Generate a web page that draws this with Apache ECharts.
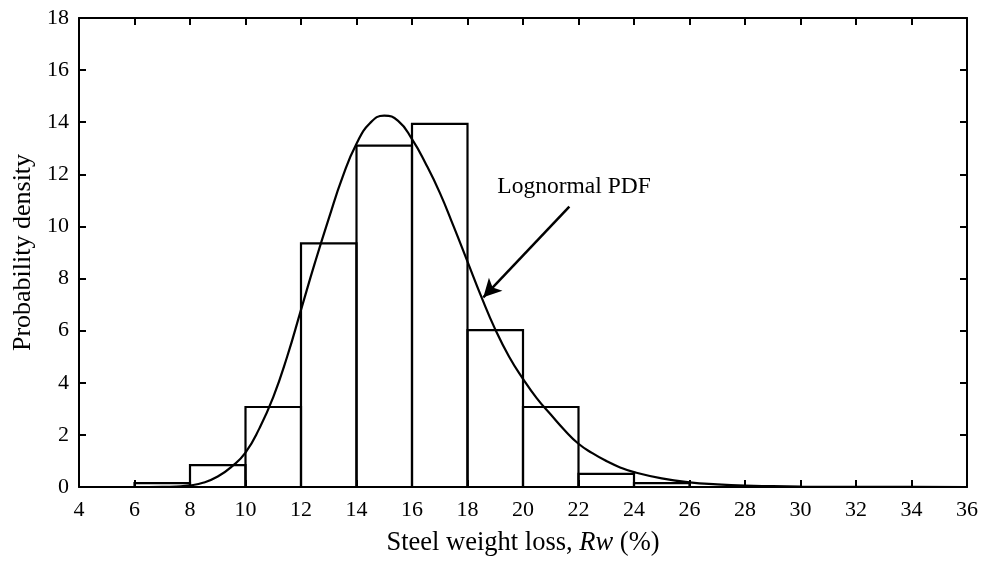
<!DOCTYPE html>
<html>
<head>
<meta charset="utf-8">
<script src="https://cdn.jsdelivr.net/npm/echarts@6/dist/echarts.min.js"></script>
<style>
  html, body { margin: 0; padding: 0; background: #fff; }
  #chart { width: 982px; height: 566px; }
</style>
</head>
<body>
<div id="chart"></div>
<script>
// Histogram bins (left/right edges, %) and observed probability density
const binEdges = [6, 8, 10, 12, 14, 16, 18, 20, 22, 24, 26];
const binDensity = [0.15, 0.84, 3.07, 9.35, 13.1, 13.94, 6.02, 3.07, 0.5, 0.15];

// Fitted lognormal PDF, sampled along the weight-loss axis
const pdfX = [4, 6, 7, 7.5, 8, 8.5, 9, 9.5, 10, 10.5, 11, 11.5, 12, 12.5, 13, 13.5, 14, 14.5,
              15, 15.5, 16, 16.5, 17, 17.5, 18, 18.5, 19, 19.5, 20, 20.5, 21, 21.5, 22, 22.5,
              23, 23.5, 24, 25, 26, 27, 28, 29, 30, 32, 34, 36];
const pdfY = [0, 0, 0.005, 0.02, 0.06, 0.17, 0.4, 0.78, 1.32, 2.25, 3.45, 5.0, 6.8, 8.6, 10.3, 11.9, 13.17, 13.98,
              14.25, 14.05, 13.35, 12.4, 11.3, 10.0, 8.65, 7.3, 6.05, 5.0, 4.15, 3.4, 2.78, 2.18, 1.66, 1.3,
              1.0, 0.75, 0.57, 0.33, 0.18, 0.1, 0.05, 0.03, 0.015, 0.004, 0.001, 0];

// Tick values for both axes
const xTicks = [4, 6, 8, 10, 12, 14, 16, 18, 20, 22, 24, 26, 28, 30, 32, 34, 36];
const yTicks = [0, 2, 4, 6, 8, 10, 12, 14, 16, 18];

// Annotation: label and arrow pointing at the curve
const pdfLabel = 'Lognormal PDF';
const labelAt = [21.84, 11.51];
const arrowFrom = [21.67, 10.76];
const arrowTo = [18.57, 7.28];

const FONT = '"Liberation Serif", "DejaVu Serif", serif';

const histData = binDensity.map((v, i) => [binEdges[i], binEdges[i + 1], v]);
const pdfData = pdfX.map((x, i) => [x, pdfY[i]]);

const axisLine = { show: true, onZero: false, lineStyle: { color: '#000', width: 2 } };
const axisTick = { show: true, inside: true, length: 7, lineStyle: { color: '#000', width: 2 } };

const chart = echarts.init(document.getElementById('chart'), null, { renderer: 'canvas' });

chart.setOption({
  animation: false,
  backgroundColor: '#fff',
  grid: { left: 79, right: 15, top: 18, bottom: 79 },
  xAxis: [
    {
      type: 'value', position: 'bottom',
      min: xTicks[0], max: xTicks[xTicks.length - 1], interval: 2,
      axisLine, axisTick,
      splitLine: { show: false },
      axisLabel: { color: '#000', fontFamily: FONT, fontSize: 22, margin: 12 },
      name: '{n|Steel weight loss, }{i|Rw}{n| (%)}',
      nameLocation: 'middle', nameGap: 43,
      nameTextStyle: {
        rich: {
          n: { fontFamily: FONT, fontSize: 26.5, color: '#000' },
          i: { fontFamily: FONT, fontSize: 26.5, color: '#000', fontStyle: 'italic' }
        }
      }
    },
    {
      type: 'value', position: 'top',
      min: xTicks[0], max: xTicks[xTicks.length - 1], interval: 2,
      axisLine, axisTick,
      splitLine: { show: false },
      axisLabel: { show: false }
    }
  ],
  yAxis: [
    {
      type: 'value', position: 'left',
      min: yTicks[0], max: yTicks[yTicks.length - 1], interval: 2,
      axisLine, axisTick,
      splitLine: { show: false },
      axisLabel: { color: '#000', fontFamily: FONT, fontSize: 22, margin: 10 },
      name: 'Probability density',
      nameLocation: 'middle', nameGap: 43,
      nameTextStyle: { fontFamily: FONT, fontSize: 26, color: '#000' }
    },
    {
      type: 'value', position: 'right',
      min: yTicks[0], max: yTicks[yTicks.length - 1], interval: 2,
      axisLine, axisTick,
      splitLine: { show: false },
      axisLabel: { show: false }
    }
  ],
  series: [
    {
      // histogram drawn as outlined rectangles spanning each bin
      type: 'custom',
      xAxisIndex: 0, yAxisIndex: 0,
      data: histData,
      encode: { x: [0, 1], y: 2 },
      renderItem: function (params, api) {
        const p0 = api.coord([api.value(0), api.value(2)]);
        const p1 = api.coord([api.value(1), 0]);
        return {
          type: 'rect',
          shape: { x: p0[0], y: p0[1], width: p1[0] - p0[0], height: p1[1] - p0[1] },
          style: { fill: 'none', stroke: '#000', lineWidth: 2.2 }
        };
      },
      z: 2
    },
    {
      type: 'line',
      xAxisIndex: 0, yAxisIndex: 0,
      data: pdfData,
      smooth: 0.5,
      showSymbol: false,
      symbol: 'none',
      lineStyle: { color: '#000', width: 2.2 },
      z: 3,
      markLine: {
        silent: true,
        symbol: ['none', 'arrow'],
        symbolSize: [14, 18],
        lineStyle: { color: '#000', width: 2.5, type: 'solid' },
        label: { show: false },
        data: [[{ coord: arrowFrom }, { coord: arrowTo }]]
      },
      markPoint: {
        silent: true,
        symbol: 'circle',
        symbolSize: 0,
        label: {
          show: true, position: 'inside',
          formatter: pdfLabel,
          fontFamily: FONT, fontSize: 23.5, color: '#000'
        },
        data: [{ coord: labelAt }]
      }
    }
  ]
});
</script>
</body>
</html>
